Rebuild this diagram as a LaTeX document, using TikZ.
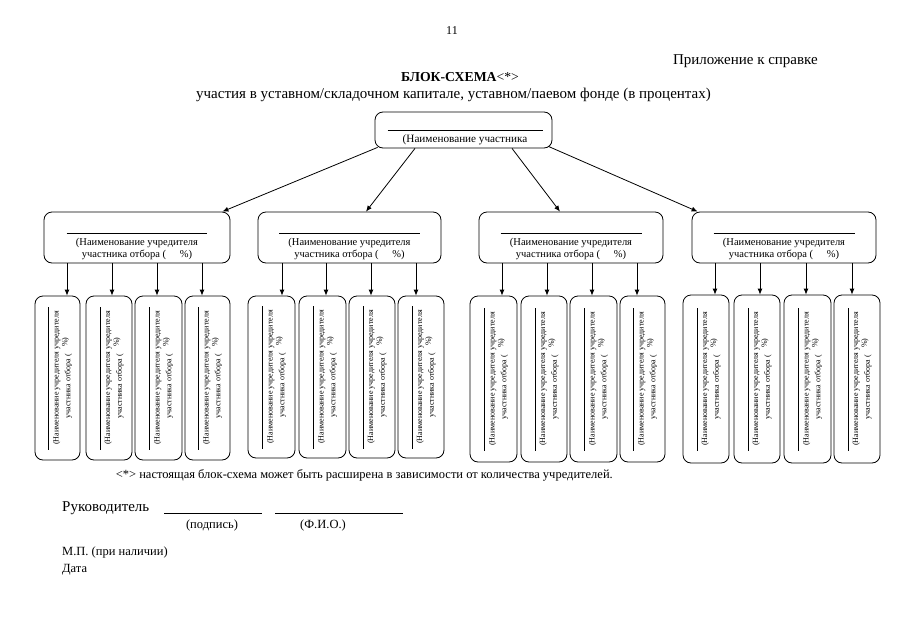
\documentclass[tikz,border=0pt]{standalone}
\usepackage{fontspec}
\setmainfont{Liberation Serif}
\usetikzlibrary{arrows.meta,calc}
\tikzset{
  box/.style={draw=black, line width=0.8pt, rounded corners=8pt, inner sep=0pt},
  arr/.style={draw=black, line width=0.8pt, -{Latex[length=6pt,width=5pt]}},
  leaftext/.style={rotate=90, inner sep=0pt, font=\fontsize{8}{10}\selectfont},
  midtext/.style={inner sep=0pt, font=\fontsize{10.5}{12}\selectfont},
  plain/.style={inner sep=0pt},
}
\newcommand\myleaf[7]{%
  \node[box, minimum width={#3-#2}, minimum height={#5-#4}] (#1) at ({(#2+#3)/2},{(#4+#5)/2}) {};
  \node[leaftext] (#1t) at (#1.center) {\begin{tabular}{@{}c@{}}\rule{143pt}{0.5pt}\\(Наименование учредителя учредителя\\участника отбора (\hspace{0.9em}\raisebox{3pt}{\%)}\end{tabular}};
  \coordinate (#1a) at (#6,#4);
  \draw[arr] (#7.south -| #1a) -- (#1a |- #1.north);
}
\newcommand\midbox[3]{%
  \node[box, minimum width={#3-#2}, minimum height=51pt] (#1) at ({(#2+#3)/2},237.5) {};
  \node[midtext] (#1t) at ({(#2+#3)/2},243.5) {\begin{tabular}{@{}c@{}}\rule{141pt}{0.5pt}\\(Наименование учредителя\\участника отбора (\hspace{1.3em}\%)\end{tabular}};
}
\begin{document}
\begin{tikzpicture}[x=1pt,y=-1pt]
\useasboundingbox (0,0) rectangle (905,640);
\fill[white] (0,0) rectangle (905,640);

% header
\node[plain, anchor=base, font=\fontsize{12}{14}\selectfont] (pagenum) at (452,34) {11};
\node[plain, anchor=base east, font=\fontsize{15}{17}\selectfont] (appendix) at (818,64) {Приложение к справке};
\node[plain, anchor=base, font=\fontsize{13.7}{16}\selectfont] (title) at (460,81) {\textbf{БЛОК-СХЕМА}<*>};
\node[plain, anchor=base, font=\fontsize{15}{17}\selectfont] (subtitle) at (453.5,98) {участия в уставном/складочном капитале, уставном/паевом фонде (в процентах)};

% root
\node[box, minimum width=177pt, minimum height=36pt] (root) at (463.5,130) {};
\node[midtext, font=\fontsize{11.2}{12}\selectfont] (roott) at (465,134) {\begin{tabular}{@{}c@{}}\rule{155pt}{0.5pt}\\(Наименование участника\end{tabular}};

% level 2
\midbox{n1}{44}{230}
\midbox{n2}{258}{441}
\midbox{n3}{479}{663}
\midbox{n4}{692}{876}

\draw[arr] ([xshift=3pt,yshift=1pt]root.south west) -- ([xshift=-8pt]n1.north east);
\draw[arr] ([xshift=-48.5pt]root.south) -- ([xshift=16.5pt]n2.north);
\draw[arr] ([xshift=48.5pt]root.south) -- ([xshift=-11pt]n3.north);
\draw[arr] ([xshift=-4pt,yshift=2pt]root.south east) -- ([xshift=6pt]n4.north west);

% leaves
\myleaf{l11}{35}{80}{296}{460}{67}{n1}
\myleaf{l12}{86}{132}{296}{460}{112}{n1}
\myleaf{l13}{135}{182}{296}{460}{157}{n1}
\myleaf{l14}{185}{230}{296}{460}{202}{n1}

\myleaf{l21}{248}{295}{296}{458}{282}{n2}
\myleaf{l22}{299}{346}{296}{458}{326}{n2}
\myleaf{l23}{349}{395}{296}{458}{371}{n2}
\myleaf{l24}{398}{444}{296}{458}{416}{n2}

\myleaf{l31}{470}{517}{296}{462}{502}{n3}
\myleaf{l32}{521}{567}{296}{462}{547}{n3}
\myleaf{l33}{570}{617}{296}{462}{592}{n3}
\myleaf{l34}{620}{665}{296}{462}{637}{n3}

\myleaf{l41}{683}{729}{295}{463}{715}{n4}
\myleaf{l42}{734}{780}{295}{463}{760}{n4}
\myleaf{l43}{784}{831}{295}{463}{806}{n4}
\myleaf{l44}{834}{880}{295}{463}{852}{n4}

% footer
\node[plain, anchor=base east, font=\fontsize{12.5}{14}\selectfont] (note) at (613,478) {<*> настоящая блок-схема может быть расширена в зависимости от количества учредителей.};
\node[plain, anchor=base west, font=\fontsize{15}{17}\selectfont] (head) at (62,511) {Руководитель};
\coordinate (s1a) at (164,513); \coordinate (s1b) at (262,513);
\coordinate (s2a) at (275,513); \coordinate (s2b) at (403,513);
\draw[line width=0.8pt] (s1a) -- (s1b);
\draw[line width=0.8pt] (s2a) -- (s2b);
\node[plain, anchor=base, font=\fontsize{12.5}{14}\selectfont] (sign) at (212,528) {(подпись)};
\node[plain, anchor=base, font=\fontsize{12.5}{14}\selectfont] (fio) at (323,528) {(Ф.И.О.)};
\node[plain, anchor=base west, font=\fontsize{12.5}{14}\selectfont] (mp) at (62,555) {М.П. (при наличии)};
\node[plain, anchor=base west, font=\fontsize{12.5}{14}\selectfont] (date) at (62,572) {Дата};
\end{tikzpicture}
\end{document}
